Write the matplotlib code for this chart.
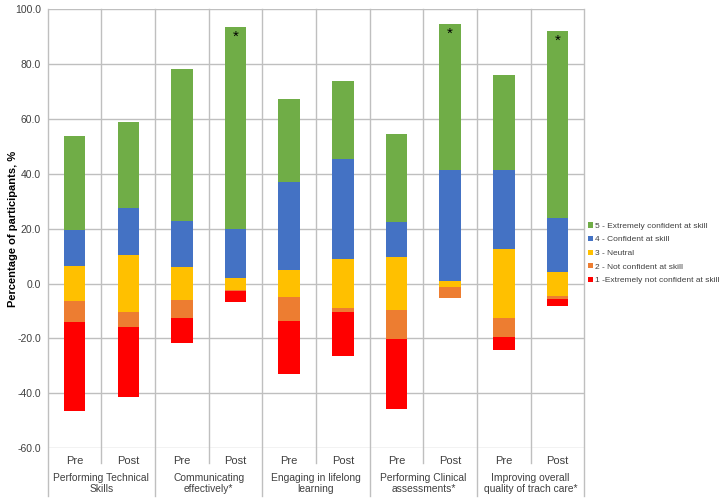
import matplotlib
matplotlib.use("Agg")
import matplotlib.pyplot as plt
import numpy as np

plt.rcParams['font.family'] = ['Liberation Sans', 'DejaVu Sans']

groups = ["Performing Technical\nSkills", "Communicating\neffectively*",
          "Engaging in lifelong\nlearning", "Performing Clinical\nassessments*",
          "Improving overall\nquality of trach care*"]
phases = ["Pre", "Post"] * 5
extremely_conf = [34.1, 31.2, 55.6, 73.6, 30.3, 28.7, 32.0, 53.1, 34.7, 68.1]
confident = [13.1, 17.4, 16.6, 17.6, 32.1, 36.4, 12.8, 40.3, 28.8, 19.5]
neutral = [13.0, 20.5, 12.2, 4.4, 9.7, 17.6, 19.2, 2.2, 25.1, 8.7]
not_conf = [7.6, 5.4, 6.6, 0.5, 8.7, 1.6, 10.5, 4.1, 7.0, 1.3]
extremely_not = [32.3, 25.5, 8.9, 4.0, 19.3, 15.9, 25.7, 0.0, 4.5, 2.5]
significant = [False, False, False, True, False, False, False, True, False, True]

labels = ["5 - Extremely confident at skill", "4 - Confident at skill", "3 - Neutral",
          "2 - Not confident at skill", "1 -Extremely not confident at skill"]
colors = ["#70AD47", "#4472C4", "#FFC000", "#ED7D31", "#FF0000"]

fig = plt.figure(figsize=(7.24, 5.0), dpi=100)
ax = fig.add_axes([0.066, 0.1034, 0.741, 0.8786])

x = np.arange(len(phases))
w = 0.4
e5 = np.array(extremely_conf); e4 = np.array(confident); e3 = np.array(neutral)
e2 = np.array(not_conf); e1 = np.array(extremely_not)
half = e3 / 2

ax.bar(x, e5, w, bottom=half + e4, color=colors[0], label=labels[0], zorder=3)
ax.bar(x, e4, w, bottom=half, color=colors[1], label=labels[1], zorder=3)
ax.bar(x, e3, w, bottom=-half, color=colors[2], label=labels[2], zorder=3)
ax.bar(x, -e2, w, bottom=-half, color=colors[3], label=labels[3], zorder=3)
ax.bar(x, -e1, w, bottom=-half - e2, color=colors[4], label=labels[4], zorder=3)

tops = half + e4 + e5
for i, s in enumerate(significant):
    if s:
        ax.text(x[i], tops[i] - 1.0, "*", ha='center', va='top', fontsize=11, zorder=4)

ax.set_xlim(-0.5, 9.5)
ax.set_ylim(-60, 100)
ax.set_yticks(np.arange(-60, 101, 20))
ax.set_yticklabels([f"{v:.1f}" for v in np.arange(-60, 101, 20)], fontsize=7.5, color='#404040')
ax.tick_params(axis='y', length=0, pad=5)
ax.set_xticks([])
for sp in ax.spines.values():
    sp.set_visible(False)

gc = '#BFBFBF'
for v in np.arange(-60, 101, 20):
    ax.axhline(v, color=gc, lw=1, zorder=1)

# vertical separators
for b in np.arange(-0.5, 10, 1.0):
    idx = int(round(b + 0.5))
    if idx % 2 == 1:
        ymin = -65.5
    else:
        ymin = -77.5
    ax.plot([b, b], [ymin, 100], color=gc, lw=1, clip_on=False, zorder=1)

for i, p in enumerate(phases):
    ax.text(x[i], -62.8, p, ha='center', va='top', fontsize=8, color='#404040')
for g, name in enumerate(groups):
    ax.text(2 * g + 0.5, -69.0, name, ha='center', va='top', fontsize=7.4,
            color='#404040', linespacing=1.15)

ax.set_ylabel("Percentage of participants, %", fontsize=8, fontweight='bold')
ax.yaxis.set_label_coords(-0.056, 0.5)

leg = fig.legend(loc='upper left', bbox_to_anchor=(0.807, 0.562), frameon=False,
                 fontsize=6.0, handlelength=0.6, handleheight=0.6, handletextpad=0.3,
                 labelspacing=0.72, borderaxespad=0)
for t in leg.get_texts():
    t.set_color('#404040')

fig.savefig("out.png", dpi=100)
